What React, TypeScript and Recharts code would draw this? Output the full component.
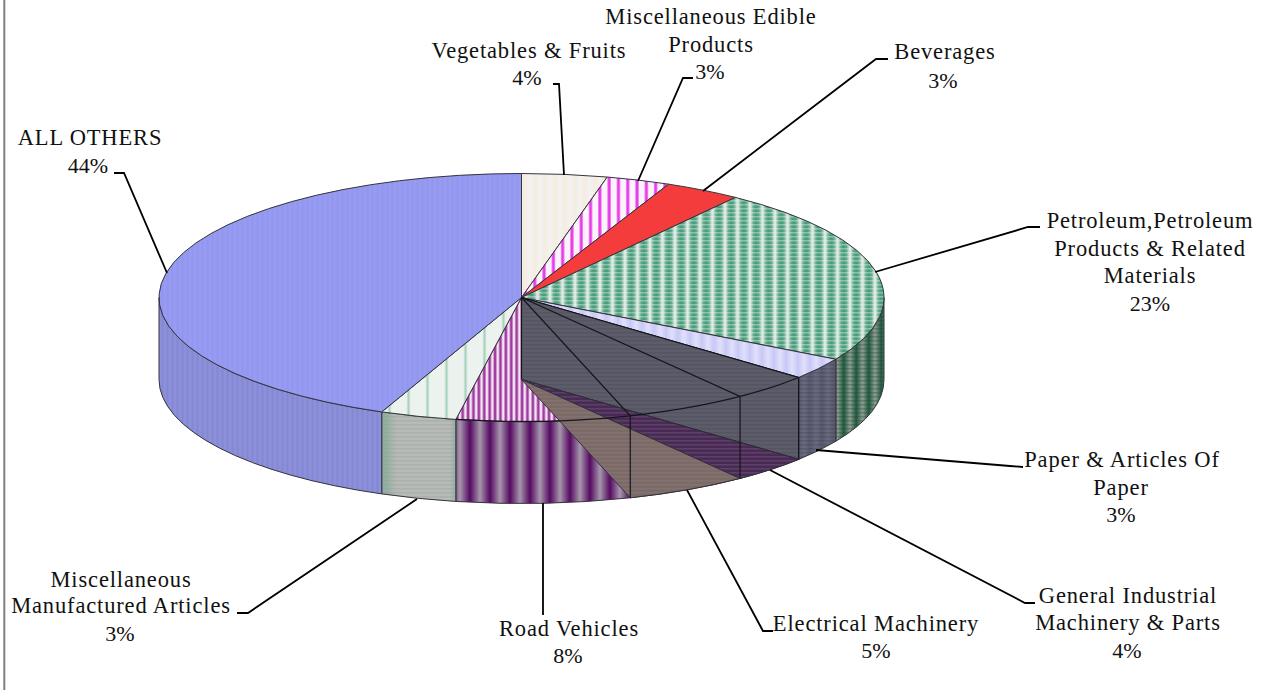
import React from 'react';
import { Pie, PieChart } from 'recharts';

const categories = [
  'Vegetables & Fruits',
  'Miscellaneous Edible Products',
  'Beverages',
  'Petroleum,Petroleum Products & Related Materials',
  'Paper & Articles Of Paper',
  'General Industrial Machinery & Parts',
  'Electrical Machinery',
  'Road Vehicles',
  'Miscellaneous Manufactured Articles',
  'ALL OTHERS',
];
// read from the slice boundaries, they round to the printed percentages
const shares = [3.8, 2.85, 3.4, 23.25, 2.85, 3.55, 5.45, 7.75, 3.4, 43.7];
const rows = categories.map((name, i) => ({ name, value: shares[i] }));

const CX = 521.5;
const CY = 297.5;
const RX = 362.5;
const RY = 124;
const DEPTH = 82;

const FONT = '"Liberation Serif", serif';

const topFill: Record<string, string> = {
  'Vegetables & Fruits': 'url(#vegTop)',
  'Miscellaneous Edible Products': 'url(#edibleTop)',
  Beverages: '#f43c3c',
  'Petroleum,Petroleum Products & Related Materials': 'url(#petroTop)',
  'Paper & Articles Of Paper': 'url(#paperTop)',
  'General Industrial Machinery & Parts': 'url(#wall)',
  'Electrical Machinery': 'url(#wall)',
  'Road Vehicles': 'url(#roadTop)',
  'Miscellaneous Manufactured Articles': 'url(#manufTop)',
  'ALL OTHERS': 'url(#othersTop)',
};
const sideFill: Record<string, string> = {
  ...topFill,
  'Petroleum,Petroleum Products & Related Materials': 'url(#petroSide)',
  'Paper & Articles Of Paper': 'url(#paperSide)',
  'Road Vehicles': 'url(#roadSide)',
  'Miscellaneous Manufactured Articles': 'url(#manufSide)',
  'ALL OTHERS': 'url(#othersSide)',
};

// text lines: [centre x, baseline y, text]
const labelLines: [number, number, string][][] = [
  [[529, 58, 'Vegetables & Fruits'], [527, 85, '4%']],
  [[711, 24, 'Miscellaneous Edible'], [711, 52, 'Products'], [710, 79, '3%']],
  [[945, 59, 'Beverages'], [943, 88, '3%']],
  [[1150, 228, 'Petroleum,Petroleum'], [1150, 256, 'Products & Related'], [1150, 283, 'Materials'], [1150, 311, '23%']],
  [[1122, 467, 'Paper & Articles Of'], [1121, 495, 'Paper'], [1121, 522, '3%']],
  [[1128, 603, 'General Industrial'], [1128, 630, 'Machinery & Parts'], [1127, 658, '4%']],
  [[876, 631, 'Electrical Machinery'], [876, 658, '5%']],
  [[569, 636, 'Road Vehicles'], [568, 663, '8%']],
  [[121, 587, 'Miscellaneous'], [121, 613, 'Manufactured Articles'], [120, 641, '3%']],
  [[90, 145, 'ALL OTHERS'], [88, 173, '44%']],
];
const leaders = [
  '553,84 559,84 564,175',
  '693,78 683,78 638,181',
  '888,59 876,59 703,191',
  '1040,227 1028,227 875,272',
  '1023,467 1010,466 816,450',
  '1035,603 1025,603 770,470',
  '773,631 763,631 687,490',
  '543,503 543,615',
  '237,613 248,613 417,499',
  '114,173 124,173 167,273',
];

const px = (a: number) => CX + RX * Math.cos((a * Math.PI) / 180);
const py = (a: number, cy = CY) => cy - RY * Math.sin((a * Math.PI) / 180);

// elliptical arc going clockwise on screen, a1 > a2
const arc = (a1: number, a2: number, cy = CY) =>
  `A${RX},${RY} 0 ${a1 - a2 > 180 ? 1 : 0} 1 ${px(a2)},${py(a2, cy)}`;

const wedge = (a1: number, a2: number, cy = CY) =>
  `M${CX},${cy} L${px(a1)},${py(a1, cy)} ${arc(a1, a2, cy)} Z`;

const Stripes = ({ id, size, stops, lines }: { id: string; size: number; stops: [number, string][]; lines?: string }) => (
  <>
    <linearGradient id={`${id}G`} x1="0" y1="0" x2="1" y2="0">
      {stops.map(([o, c]) => (
        <stop key={o} offset={o} stopColor={c} />
      ))}
    </linearGradient>
    <pattern id={id} patternUnits="userSpaceOnUse" width={size} height={4}>
      <rect width={size} height={4} fill={`url(#${id}G)`} />
      {lines ? <rect width={size} height={1.5} fill={lines} /> : null}
    </pattern>
  </>
);

const Patterns = () => (
  <defs>
    <Stripes id="vegTop" size={10} stops={[[0, '#f3f3f1'], [0.5, '#f5ebe0'], [1, '#f3f3f1']]} />
    <Stripes id="edibleTop" size={9.3} stops={[[0, '#fbf3fb'], [0.3, '#fbf3fb'], [0.38, '#e83ce8'], [0.62, '#e83ce8'], [0.7, '#fbf3fb'], [1, '#fbf3fb']]} />
    <Stripes id="petroTop" size={12.5} stops={[[0, '#f0f2f0'], [0.28, '#5fab8b'], [0.5, '#459a78'], [0.72, '#5fab8b'], [1, '#f0f2f0']]} lines="rgba(235,243,238,0.4)" />
    <Stripes id="petroSide" size={12.5} stops={[[0, '#8f9f94'], [0.5, '#1f5a3e'], [1, '#8f9f94']]} lines="rgba(30,60,45,0.3)" />
    <Stripes id="paperTop" size={12} stops={[[0, '#e0e0fb'], [0.5, '#c8c8f6'], [1, '#e0e0fb']]} />
    <Stripes id="paperSide" size={12} stops={[[0, '#6b6b80'], [0.5, '#585870'], [1, '#6b6b80']]} lines="rgba(60,60,70,0.3)" />
    <Stripes id="roadTop" size={5.4} stops={[[0, '#f2e3f2'], [0.35, '#f2e3f2'], [0.5, '#a03aa0'], [0.85, '#a03aa0'], [1, '#f2e3f2']]} />
    <Stripes id="roadSide" size={20} stops={[[0, '#a696ac'], [0.5, '#560a62'], [1, '#a696ac']]} />
    <Stripes id="manufTop" size={19} stops={[[0, '#ecf3ef'], [0.38, '#ecf3ef'], [0.5, '#a8d0bc'], [0.62, '#ecf3ef'], [1, '#ecf3ef']]} />
    <Stripes id="manufSide" size={75} stops={[[0, '#b8bab8'], [0.08, '#8fb09f'], [0.14, '#8fb09f'], [0.28, '#b8bab8'], [1, '#b8bab8']]} lines="rgba(150,160,150,0.4)" />
    <Stripes id="othersTop" size={5} stops={[[0, '#989cf2'], [0.5, '#9296ee'], [1, '#989cf2']]} />
    <Stripes id="othersSide" size={5} stops={[[0, '#8e92dc'], [0.5, '#8488d2'], [1, '#8e92dc']]} />
    <Stripes id="wall" size={8} stops={[[0, '#5c5c6a'], [1, '#5c5c6a']]} lines="rgba(78,78,90,0.5)" />
    <Stripes id="generalFloor" size={8} stops={[[0, '#4a2a55'], [1, '#4a2a55']]} lines="rgba(110,90,125,0.5)" />
    <Stripes id="electricalFloor" size={8} stops={[[0, '#7a6a68'], [1, '#7a6a68']]} lines="rgba(140,120,115,0.6)" />
  </defs>
);

// angular width of a slice, the arc over the dark wall spans two of them
const categoryDelta = (i: number) => (shares[i] / shares.reduce((s, v) => s + v, 0)) * 360;

// rim and top face of every slice
const BodySlice = (props: any) => {
  const a1 = Math.max(props.startAngle, props.endAngle);
  const a2 = Math.min(props.startAngle, props.endAngle);
  const f1 = Math.min(a1, 0);
  const f2 = Math.max(a2, -180);
  const bottom = CY + DEPTH;
  return (
    <g>
      {f1 > f2 ? (
        <path
          d={`M${px(f1)},${py(f1)} ${arc(f1, f2)} L${px(f2)},${py(f2, bottom)} A${RX},${RY} 0 ${f1 - f2 > 180 ? 1 : 0} 0 ${px(f1)},${py(f1, bottom)} Z`}
          fill={sideFill[props.name]}
          stroke="#34343c"
          strokeWidth={1}
        />
      ) : null}
      <path d={wedge(a1, a2)} fill={topFill[props.name]} stroke="#34343c" strokeWidth={1} />
    </g>
  );
};

// the picture draws these faces out of order: the inner wall and the floors sit on top of the front slices
const OverlaySlice = (props: any) => {
  const a1 = Math.max(props.startAngle, props.endAngle);
  const a2 = Math.min(props.startAngle, props.endAngle);
  const bottom = CY + DEPTH;
  const edge = { fill: 'none', stroke: '#15151c', strokeWidth: 1.2 };
  if (props.name === categories[5]) {
    return (
      <g>
        <path
          d={`M${CX},${CY} L${px(a1)},${py(a1)} L${px(a1)},${py(a1, bottom)} L${CX},${bottom} Z`}
          fill="url(#wall)"
          stroke="#15151c"
          strokeWidth={1.2}
        />
        <path d={wedge(a1, a2, bottom)} fill="url(#generalFloor)" stroke="#33303a" strokeWidth={1} />
      </g>
    );
  }
  if (props.name === categories[6]) {
    const high = a1 + categoryDelta(5);
    return (
      <g>
        <path d={wedge(a1, a2, bottom)} fill="url(#electricalFloor)" stroke="#33303a" strokeWidth={1} />
        <path d={`M${CX},${CY} L${px(a1)},${py(a1)} L${px(a1)},${py(a1, bottom)}`} {...edge} />
        <path d={`M${CX},${CY} L${px(a2)},${py(a2)} L${px(a2)},${py(a2, bottom)}`} {...edge} />
        <path d={`M${px(high)},${py(high)} ${arc(high, a2)}`} {...edge} />
      </g>
    );
  }
  if (props.name === categories[7]) {
    return <path d={`M${px(a1)},${py(a1)} ${arc(a1, a2)}`} {...edge} />;
  }
  return <g />;
};

const SliceLabel = (props: any) => {
  const i = props.index;
  return (
    <g>
      <polyline points={leaders[i]} fill="none" stroke="#000" strokeWidth={1.8} />
      {labelLines[i].map(([x, y, t]) => {
        const pct = t.endsWith('%');
        return (
          <text
            key={t}
            x={x}
            y={y}
            textAnchor="middle"
            fontFamily={FONT}
            fontSize={pct ? 22 : 22.5}
            letterSpacing={pct ? 0 : 0.85}
            fill="#111"
          >
            {t}
          </text>
        );
      })}
    </g>
  );
};

export default function App() {
  const common = {
    data: rows,
    dataKey: 'value',
    nameKey: 'name',
    cx: CX,
    cy: CY,
    innerRadius: 0,
    outerRadius: RX,
    startAngle: 90,
    endAngle: -270,
    paddingAngle: 0,
    isAnimationActive: false,
  };
  return (
    <div style={{ position: 'absolute', left: 0, top: 0, width: 1265, height: 691, background: '#fff' }}>
      <PieChart width={1265} height={691} margin={{ top: 0, right: 0, bottom: 0, left: 0 }}>
        <Patterns />
        <line x1={4.3} y1={0} x2={4.3} y2={690} stroke="#808080" strokeWidth={2} />
        <Pie {...common} shape={BodySlice} inactiveShape={BodySlice} activeShape={BodySlice} />
        <Pie {...common} shape={OverlaySlice} inactiveShape={OverlaySlice} activeShape={OverlaySlice} label={SliceLabel} labelLine={false} />
      </PieChart>
    </div>
  );
}
